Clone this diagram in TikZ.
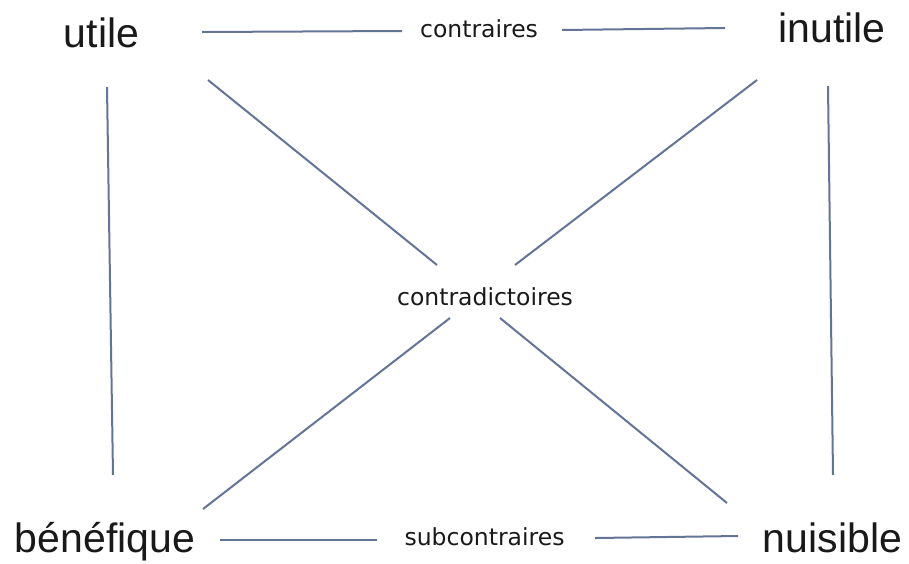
\documentclass[tikz,border=0pt]{standalone}
\usepackage{fontspec}
\setmainfont{Liberation Sans}
\newfontfamily\smallfont{DejaVu Sans}
\definecolor{linecol}{RGB}{100,116,150}
\definecolor{txtcol}{RGB}{25,25,25}
\begin{document}
\begin{tikzpicture}[x=1pt,y=-1pt,
  bigword/.style={anchor=base,inner sep=0pt,text=txtcol,font=\fontsize{41}{45}\selectfont},
  smallword/.style={anchor=base,inner sep=0pt,text=txtcol,font=\smallfont\fontsize{23.5}{26}\selectfont},
  conn/.style={draw=linecol,line width=2pt}]
\useasboundingbox (0,0) rectangle (909,563);
\fill[white] (0,0) rectangle (909,563);
% words
\node[bigword] (utile) at (101.5,47) {utile};
\node[bigword] (inutile) at (832,42) {inutile};
\node[bigword] (benefique) at (105,552) {bénéfique};
\node[bigword] (nuisible) at (832.5,552) {nuisible};
\node[smallword] (contraires) at (479,37) {contraires};
\node[smallword] (contradictoires) at (485,305) {contradictoires};
\node[smallword] (subcontraires) at (484.5,545) {subcontraires};
% connector ends
\coordinate (t1) at (202,32);
\coordinate (t2) at (402,31);
\coordinate (t3) at (562,30);
\coordinate (t4) at (725,28);
\coordinate (b1) at (220,540);
\coordinate (b2) at (377,540);
\coordinate (b3) at (595,538);
\coordinate (b4) at (738,536);
\coordinate (l1) at (107,87);
\coordinate (l2) at (113,475);
\coordinate (r1) at (828,86);
\coordinate (r2) at (833,475);
\coordinate (d1) at (208,80);
\coordinate (d2) at (437,265);
\coordinate (d3) at (757,80);
\coordinate (d4) at (515,265);
\coordinate (d5) at (203,509);
\coordinate (d6) at (450,318);
\coordinate (d7) at (727,503);
\coordinate (d8) at (500,318);
% connectors
\draw[conn] (t1) -- (t2);
\draw[conn] (t3) -- (t4);
\draw[conn] (b1) -- (b2);
\draw[conn] (b3) -- (b4);
\draw[conn] (l1) -- (l2);
\draw[conn] (r1) -- (r2);
\draw[conn] (d1) -- (d2);
\draw[conn] (d3) -- (d4);
\draw[conn] (d5) -- (d6);
\draw[conn] (d7) -- (d8);
\end{tikzpicture}
\end{document}
